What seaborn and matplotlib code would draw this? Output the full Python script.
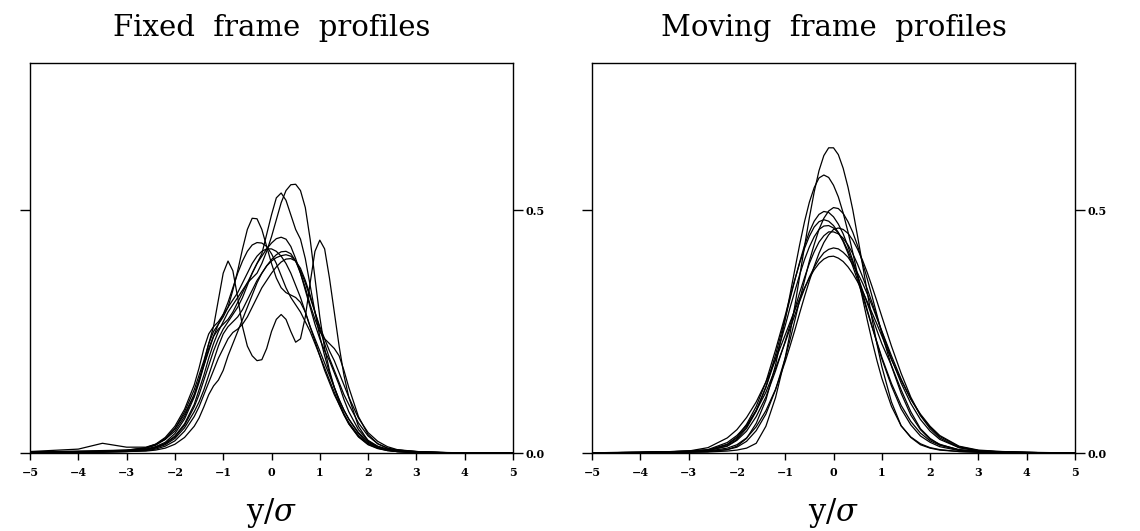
import matplotlib
matplotlib.use("Agg")
import matplotlib.pyplot as plt
import numpy as np
import pandas as pd
import seaborn as sns

# ---------------- data ----------------
TITLES = ["Fixed  frame  profiles", "Moving  frame  profiles"]
X_LABEL = "y/$\\sigma$"
X_TICKS = [-5, -4, -3, -2, -1, 0, 1, 2, 3, 4, 5]
X_TICK_LABELS = ["\u22125", "\u22124", "\u22123", "\u22122", "\u22121", "0", "1", "2", "3", "4", "5"]
Y_TICKS = [0.0, 0.5]
Y_TICK_LABELS = ["0.0", "0.5"]

# sample positions (y/sigma) for the fixed-frame profiles
X_FIXED = [-5.0, -4.0, -3.5, -3.0, -2.6, -2.4, -2.2, -2.0, -1.8,
           -1.6, -1.5, -1.4, -1.3, -1.2, -1.1, -1.0, -0.9, -0.8, -0.7, -0.6,
           -0.5, -0.4, -0.3, -0.2, -0.1, 0.0, 0.1, 0.2, 0.3, 0.4, 0.5,
           0.6, 0.7, 0.8, 0.9, 1.0, 1.1, 1.2, 1.3, 1.4, 1.5, 1.6,
           1.8, 2.0, 2.2, 2.4, 2.6, 3.0, 3.5, 4.0, 5.0]

fixed_1 = [0.002, 0.004, 0.005, 0.006, 0.01, 0.016, 0.028, 0.05, 0.085,
           0.13, 0.16, 0.19, 0.225, 0.26, 0.315, 0.37, 0.395, 0.375, 0.32, 0.26,
           0.22, 0.20, 0.19, 0.192, 0.215, 0.25, 0.275, 0.285, 0.275, 0.25, 0.228,
           0.235, 0.28, 0.35, 0.415, 0.438, 0.42, 0.36, 0.29, 0.22, 0.16, 0.115,
           0.055, 0.025, 0.012, 0.006, 0.003, 0.001, 0.0005, 0.0, 0.0]
fixed_2 = [0.001, 0.002, 0.003, 0.004, 0.007, 0.012, 0.02, 0.035, 0.06,
           0.10, 0.13, 0.16, 0.195, 0.225, 0.25, 0.27, 0.29, 0.305, 0.32, 0.335,
           0.35, 0.36, 0.37, 0.39, 0.415, 0.445, 0.48, 0.515, 0.54, 0.552, 0.553,
           0.54, 0.505, 0.44, 0.36, 0.28, 0.215, 0.17, 0.135, 0.105, 0.08, 0.06,
           0.033, 0.017, 0.009, 0.005, 0.003, 0.001, 0.0005, 0.0, 0.0]
fixed_3 = [0.001, 0.002, 0.003, 0.004, 0.008, 0.013, 0.022, 0.04, 0.07,
           0.115, 0.145, 0.18, 0.215, 0.24, 0.255, 0.265, 0.275, 0.29, 0.31, 0.33,
           0.35, 0.37, 0.39, 0.41, 0.45, 0.49, 0.525, 0.535, 0.52, 0.49, 0.46,
           0.44, 0.40, 0.345, 0.29, 0.24, 0.20, 0.165, 0.135, 0.11, 0.088, 0.07,
           0.042, 0.024, 0.013, 0.007, 0.004, 0.002, 0.001, 0.0, 0.0]
fixed_4 = [0.001, 0.002, 0.003, 0.005, 0.01, 0.017, 0.03, 0.05, 0.08,
           0.12, 0.15, 0.185, 0.225, 0.25, 0.265, 0.28, 0.30, 0.335, 0.375, 0.42,
           0.46, 0.483, 0.482, 0.46, 0.425, 0.39, 0.36, 0.34, 0.33, 0.325, 0.32,
           0.31, 0.29, 0.26, 0.23, 0.20, 0.17, 0.145, 0.12, 0.10, 0.08, 0.063,
           0.036, 0.02, 0.011, 0.006, 0.003, 0.001, 0.0005, 0.0, 0.0]
fixed_5 = [0.001, 0.002, 0.003, 0.004, 0.007, 0.011, 0.019, 0.033, 0.057,
           0.095, 0.12, 0.15, 0.18, 0.21, 0.235, 0.255, 0.27, 0.285, 0.30, 0.32,
           0.345, 0.37, 0.39, 0.405, 0.42, 0.432, 0.441, 0.444, 0.44, 0.425, 0.40,
           0.37, 0.335, 0.30, 0.265, 0.235, 0.21, 0.19, 0.165, 0.14, 0.11, 0.085,
           0.048, 0.026, 0.014, 0.008, 0.005, 0.002, 0.001, 0.0, 0.0]
fixed_6 = [0.002, 0.003, 0.004, 0.006, 0.011, 0.018, 0.032, 0.055, 0.09,
           0.14, 0.175, 0.215, 0.245, 0.26, 0.27, 0.285, 0.31, 0.34, 0.37, 0.395,
           0.415, 0.428, 0.433, 0.432, 0.425, 0.41, 0.39, 0.365, 0.34, 0.32, 0.305,
           0.29, 0.27, 0.25, 0.225, 0.20, 0.175, 0.15, 0.125, 0.10, 0.078, 0.06,
           0.034, 0.018, 0.01, 0.005, 0.003, 0.001, 0.0005, 0.0, 0.0]
fixed_7 = [0.001, 0.002, 0.002, 0.003, 0.006, 0.01, 0.017, 0.03, 0.052,
           0.085, 0.105, 0.13, 0.16, 0.19, 0.22, 0.245, 0.26, 0.27, 0.28, 0.295,
           0.315, 0.335, 0.355, 0.37, 0.385, 0.398, 0.408, 0.414, 0.415, 0.41, 0.395,
           0.37, 0.34, 0.305, 0.275, 0.25, 0.235, 0.225, 0.215, 0.20, 0.17, 0.135,
           0.075, 0.038, 0.019, 0.01, 0.006, 0.003, 0.001, 0.0, 0.0]
fixed_8 = [0.001, 0.002, 0.002, 0.003, 0.005, 0.008, 0.014, 0.025, 0.045,
           0.075, 0.095, 0.12, 0.145, 0.17, 0.195, 0.215, 0.235, 0.248, 0.255, 0.265,
           0.28, 0.30, 0.32, 0.34, 0.355, 0.37, 0.383, 0.393, 0.399, 0.40, 0.395,
           0.38, 0.355, 0.325, 0.29, 0.255, 0.225, 0.195, 0.17, 0.145, 0.12, 0.10,
           0.062, 0.035, 0.019, 0.01, 0.006, 0.003, 0.001, 0.0005, 0.0]
fixed_9 = [0.001, 0.001, 0.002, 0.003, 0.004, 0.006, 0.01, 0.018, 0.032,
           0.055, 0.072, 0.095, 0.12, 0.138, 0.15, 0.17, 0.20, 0.225, 0.25, 0.275,
           0.30, 0.325, 0.35, 0.37, 0.385, 0.395, 0.402, 0.406, 0.408, 0.405, 0.395,
           0.375, 0.35, 0.32, 0.29, 0.26, 0.235, 0.21, 0.19, 0.165, 0.14, 0.115,
           0.072, 0.042, 0.024, 0.013, 0.007, 0.003, 0.001, 0.0005, 0.0]
fixed_10 = [0.003, 0.008, 0.02, 0.012, 0.012, 0.018, 0.028, 0.045, 0.075,
            0.12, 0.15, 0.18, 0.21, 0.24, 0.265, 0.285, 0.30, 0.315, 0.33, 0.35,
            0.37, 0.39, 0.405, 0.415, 0.42, 0.42, 0.415, 0.405, 0.39, 0.37, 0.345,
            0.32, 0.29, 0.26, 0.235, 0.21, 0.185, 0.16, 0.135, 0.11, 0.088, 0.07,
            0.04, 0.022, 0.012, 0.007, 0.004, 0.002, 0.001, 0.0, 0.0]

# sample positions (y/sigma) for the moving-frame profiles
X_MOVING = [-5.0, -4.0, -3.5, -3.0, -2.6, -2.2, -2.0, -1.8, -1.6, -1.4, -1.2,
            -1.0, -0.9, -0.8, -0.7, -0.6, -0.5, -0.4, -0.3, -0.2, -0.1, 0.0,
            0.1, 0.2, 0.3, 0.4, 0.5, 0.6, 0.7, 0.8, 0.9, 1.0,
            1.2, 1.4, 1.6, 1.8, 2.0, 2.2, 2.6, 3.0, 3.5, 4.0, 5.0]

moving_1 = [0.0005, 0.001, 0.001, 0.0015, 0.002, 0.004, 0.006, 0.010, 0.02, 0.055, 0.114,
            0.196, 0.246, 0.303, 0.364, 0.425, 0.484, 0.537, 0.581, 0.612, 0.628, 0.628,
            0.614, 0.586, 0.547, 0.50, 0.445, 0.388, 0.330, 0.275, 0.224, 0.178,
            0.105, 0.056, 0.032, 0.017, 0.010, 0.006, 0.003, 0.0015, 0.001, 0.0005, 0.0]
moving_2 = [0.0005, 0.001, 0.0015, 0.002, 0.003, 0.007, 0.014, 0.030, 0.061, 0.109, 0.181,
            0.275, 0.326, 0.378, 0.429, 0.476, 0.516, 0.546, 0.566, 0.572, 0.567, 0.551,
            0.527, 0.494, 0.455, 0.412, 0.366, 0.319, 0.273, 0.23, 0.190, 0.154,
            0.096, 0.056, 0.033, 0.019, 0.011, 0.007, 0.003, 0.0015, 0.001, 0.0005, 0.0]
moving_3 = [0.0005, 0.001, 0.0015, 0.002, 0.003, 0.007, 0.012, 0.024, 0.046, 0.080, 0.130,
            0.195, 0.233, 0.273, 0.315, 0.355, 0.395, 0.429, 0.460, 0.483, 0.498, 0.505,
            0.503, 0.493, 0.476, 0.454, 0.426, 0.392, 0.358, 0.322, 0.284, 0.246,
            0.179, 0.123, 0.078, 0.048, 0.028, 0.018, 0.006, 0.003, 0.0015, 0.001, 0.0]
moving_4 = [0.0005, 0.001, 0.002, 0.003, 0.005, 0.0146, 0.028, 0.051, 0.086, 0.136, 0.202,
            0.277, 0.317, 0.356, 0.393, 0.427, 0.455, 0.477, 0.491, 0.497, 0.495, 0.486,
            0.471, 0.451, 0.425, 0.396, 0.364, 0.33, 0.294, 0.26, 0.226, 0.194,
            0.138, 0.091, 0.058, 0.035, 0.022, 0.013, 0.005, 0.003, 0.0015, 0.001, 0.0]
moving_5 = [0.0005, 0.001, 0.002, 0.004, 0.006, 0.018, 0.033, 0.059, 0.096, 0.146, 0.212,
            0.283, 0.321, 0.357, 0.391, 0.421, 0.446, 0.465, 0.476, 0.48, 0.477, 0.468,
            0.454, 0.435, 0.411, 0.384, 0.355, 0.324, 0.291, 0.259, 0.228, 0.197,
            0.143, 0.098, 0.065, 0.041, 0.025, 0.016, 0.006, 0.003, 0.0015, 0.001, 0.0]
moving_6 = [0.0005, 0.0015, 0.0025, 0.004, 0.006, 0.017, 0.031, 0.054, 0.088, 0.135, 0.194,
            0.262, 0.299, 0.333, 0.367, 0.398, 0.424, 0.445, 0.460, 0.467, 0.468, 0.463,
            0.453, 0.437, 0.416, 0.392, 0.364, 0.335, 0.308, 0.28, 0.252, 0.225,
            0.18, 0.13, 0.085, 0.05, 0.03, 0.017, 0.007, 0.004, 0.002, 0.001, 0.0]
moving_7 = [0.0005, 0.001, 0.0015, 0.003, 0.004, 0.010, 0.017, 0.031, 0.054, 0.087, 0.131,
            0.188, 0.220, 0.253, 0.288, 0.322, 0.354, 0.384, 0.411, 0.433, 0.449, 0.46,
            0.463, 0.46, 0.452, 0.438, 0.419, 0.397, 0.371, 0.342, 0.312, 0.281,
            0.22, 0.164, 0.115, 0.077, 0.050, 0.031, 0.011, 0.004, 0.002, 0.001, 0.0]
moving_8 = [0.0005, 0.001, 0.002, 0.003, 0.005, 0.014, 0.026, 0.045, 0.075, 0.115, 0.169,
            0.23, 0.263, 0.297, 0.330, 0.361, 0.390, 0.414, 0.434, 0.447, 0.455, 0.455,
            0.451, 0.442, 0.428, 0.41, 0.388, 0.363, 0.337, 0.309, 0.280, 0.25,
            0.194, 0.144, 0.102, 0.069, 0.045, 0.028, 0.011, 0.005, 0.002, 0.001, 0.0]
moving_9 = [0.0005, 0.001, 0.002, 0.004, 0.007, 0.0215, 0.036, 0.057, 0.087, 0.125, 0.174,
            0.228, 0.256, 0.284, 0.312, 0.338, 0.362, 0.382, 0.399, 0.412, 0.419, 0.422,
            0.420, 0.413, 0.403, 0.388, 0.370, 0.35, 0.327, 0.303, 0.277, 0.251,
            0.2, 0.152, 0.111, 0.078, 0.053, 0.034, 0.013, 0.005, 0.002, 0.001, 0.0]
moving_10 = [0.0005, 0.0015, 0.0025, 0.004, 0.011, 0.031, 0.048, 0.073, 0.105, 0.146, 0.192,
             0.243, 0.269, 0.294, 0.318, 0.34, 0.360, 0.377, 0.390, 0.399, 0.404, 0.405,
             0.401, 0.394, 0.383, 0.369, 0.352, 0.333, 0.311, 0.288, 0.265, 0.241,
             0.192, 0.15, 0.111, 0.08, 0.055, 0.036, 0.014, 0.006, 0.003, 0.0015, 0.0]

FIXED = [fixed_1, fixed_2, fixed_3, fixed_4, fixed_5,
         fixed_6, fixed_7, fixed_8, fixed_9, fixed_10]
MOVING = [moving_1, moving_2, moving_3, moving_4, moving_5,
          moving_6, moving_7, moving_8, moving_9, moving_10]

for c in FIXED:
    assert len(c) == len(X_FIXED), len(c)
for c in MOVING:
    assert len(c) == len(X_MOVING), len(c)


def long_frame(xs, curves):
    rows = []
    for i, ys in enumerate(curves):
        for xv, yv in zip(xs, ys):
            rows.append({"x": xv, "y": yv, "curve": i})
    return pd.DataFrame(rows)


# ---------------- style ----------------
sns.set_theme(style="white")
plt.rcParams["font.family"] = ["DejaVu Serif"]
plt.rcParams["mathtext.fontset"] = "dejavuserif"
plt.rcParams["text.color"] = "black"
plt.rcParams["axes.labelcolor"] = "black"
plt.rcParams["xtick.color"] = "black"
plt.rcParams["ytick.color"] = "black"

W, H = 1140, 531
fig = plt.figure(figsize=(W / 100, H / 100), dpi=100)
ax_left = fig.add_axes([30 / W, 78 / H, 483 / W, 390 / H])
ax_right = fig.add_axes([592 / W, 78 / H, 483 / W, 390 / H])

for ax, xs, curves, title in [(ax_left, X_FIXED, FIXED, TITLES[0]),
                              (ax_right, X_MOVING, MOVING, TITLES[1])]:
    df = long_frame(xs, curves)
    sns.lineplot(data=df, x="x", y="y", units="curve", estimator=None,
                 color="black", linewidth=0.9, legend=False, sort=False, ax=ax)
    for ln in ax.get_lines():
        ln.set_solid_joinstyle("round")
    ax.set_xlim(-5, 5)
    ax.set_ylim(0, 0.8025)
    for sp in ax.spines.values():
        sp.set_visible(True)
        sp.set_color("black")
        sp.set_linewidth(1.0)
    ax.set_xticks(X_TICKS)
    ax.set_xticklabels(X_TICK_LABELS, fontweight="bold", fontsize=8)
    ax.set_yticks(Y_TICKS)
    ax.set_yticklabels(Y_TICK_LABELS, fontweight="bold", fontsize=8)
    ax.tick_params(axis="x", direction="out", length=5, width=1, pad=5,
                   bottom=True, top=False)
    ax.tick_params(axis="y", direction="out", length=7, width=1, pad=2,
                   left=True, right=True, labelleft=False, labelright=True)
    ax.set_xlabel("")
    ax.set_ylabel("")
    ax.grid(False)
    pos = ax.get_position()
    cx = (pos.x0 + pos.x1) / 2
    fig.text(cx, 1 - 28 / H, title, ha="center", va="center", fontsize=21)
    fig.text(cx, 1 - 513 / H, X_LABEL, ha="center", va="center", fontsize=22)

fig.savefig("out.png", dpi=100)
